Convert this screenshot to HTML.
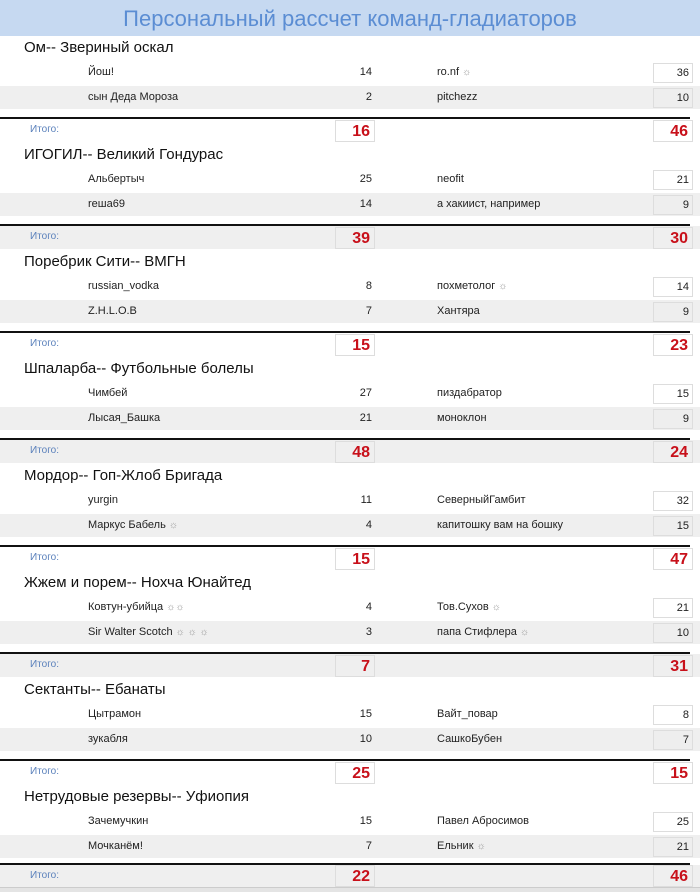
<!DOCTYPE html>
<html><head><meta charset="utf-8"><style>
*{margin:0;padding:0;box-sizing:border-box}
body{width:700px;height:892px;background:#fff;position:relative;overflow:hidden;font-family:"Liberation Sans","DejaVu Sans",sans-serif;color:#222}
.title{position:absolute;left:0;top:0;width:700px;height:36px;background:#c6d9f1;color:#5b8dd3;font-size:22px;text-align:center;line-height:38px}
.b{position:absolute;left:0;width:700px;height:96px}
.team{position:absolute;left:24px;top:0;font-size:15px;line-height:20px;color:#111}
.band{position:absolute;left:0;width:700px;height:23px;background:#efefef}
.r{position:absolute;font-size:11px;line-height:20px}
.n1{left:88px}.v1{left:300px;width:72px;text-align:right}.n2{left:437px}
.box{position:absolute;left:653px;width:40px;height:20px;border:1px solid #ddd;background:#fff;font-size:11px;line-height:18px;text-align:right;padding-right:3px}
.line{position:absolute;left:0;width:690px;height:2px;background:#111}
.it{position:absolute;left:30px;font-size:10px;color:#5a80bb;line-height:20px}
.tb{position:absolute;width:40px;height:22px;border:1px solid #ddd;color:#c8101a;font-weight:bold;font-size:16px;text-align:right;padding-right:4px;line-height:21px}
.s{color:#999;font-size:10px}
.b .r1{top:24px}
</style></head><body>
<div class="title">Персональный рассчет команд-гладиаторов</div>

<div class="b" style="top:38px">
<div class="team">Ом-- Звериный оскал</div>
<div class="r n1 r1">Йош!</div><div class="r v1 r1">14</div><div class="r n2 r1">ro.nf <span class="s">☼</span></div><div class="box" style="top:25px">36</div>
<div class="band" style="top:48px"></div>
<div class="r n1" style="top:49px">сын Деда Мороза</div><div class="r v1" style="top:49px">2</div><div class="r n2" style="top:49px">pitchezz</div><div class="box" style="top:50px;background:#eee">10</div>
<div class="line" style="top:79px"></div>
<div class="it" style="top:82px">Итого:</div>
<div class="tb" style="left:335px;top:82px">16</div><div class="tb" style="left:653px;top:82px">46</div>
</div>

<div class="b" style="top:145px">
<div class="team">ИГОГИЛ-- Великий Гондурас</div>
<div class="r n1 r1">Альбертыч</div><div class="r v1 r1">25</div><div class="r n2 r1">neofit</div><div class="box" style="top:25px">21</div>
<div class="band" style="top:48px"></div>
<div class="r n1" style="top:49px">reша69</div><div class="r v1" style="top:49px">14</div><div class="r n2" style="top:49px">а хакиист, например</div><div class="box" style="top:50px;background:#eee">9</div>
<div class="line" style="top:79px"></div>
<div class="band" style="top:81px"></div>
<div class="it" style="top:82px">Итого:</div>
<div class="tb" style="left:335px;top:82px">39</div><div class="tb" style="left:653px;top:82px">30</div>
</div>

<div class="b" style="top:252px">
<div class="team">Поребрик Сити-- ВМГН</div>
<div class="r n1 r1">russian_vodka</div><div class="r v1 r1">8</div><div class="r n2 r1">похметолог <span class="s">☼</span></div><div class="box" style="top:25px">14</div>
<div class="band" style="top:48px"></div>
<div class="r n1" style="top:49px">Z.H.L.O.B</div><div class="r v1" style="top:49px">7</div><div class="r n2" style="top:49px">Хантяра</div><div class="box" style="top:50px;background:#eee">9</div>
<div class="line" style="top:79px"></div>
<div class="it" style="top:82px">Итого:</div>
<div class="tb" style="left:335px;top:82px">15</div><div class="tb" style="left:653px;top:82px">23</div>
</div>

<div class="b" style="top:359px">
<div class="team">Шпаларба-- Футбольные болелы</div>
<div class="r n1 r1">Чимбей</div><div class="r v1 r1">27</div><div class="r n2 r1">пиздабратор</div><div class="box" style="top:25px">15</div>
<div class="band" style="top:48px"></div>
<div class="r n1" style="top:49px">Лысая_Башка</div><div class="r v1" style="top:49px">21</div><div class="r n2" style="top:49px">моноклон</div><div class="box" style="top:50px;background:#eee">9</div>
<div class="line" style="top:79px"></div>
<div class="band" style="top:81px"></div>
<div class="it" style="top:82px">Итого:</div>
<div class="tb" style="left:335px;top:82px">48</div><div class="tb" style="left:653px;top:82px">24</div>
</div>

<div class="b" style="top:466px">
<div class="team">Мордор-- Гоп-Жлоб Бригада</div>
<div class="r n1 r1">yurgin</div><div class="r v1 r1">11</div><div class="r n2 r1">СеверныйГамбит</div><div class="box" style="top:25px">32</div>
<div class="band" style="top:48px"></div>
<div class="r n1" style="top:49px">Маркус Бабель <span class="s">☼</span></div><div class="r v1" style="top:49px">4</div><div class="r n2" style="top:49px">капитошку вам на бошку</div><div class="box" style="top:50px;background:#eee">15</div>
<div class="line" style="top:79px"></div>
<div class="it" style="top:82px">Итого:</div>
<div class="tb" style="left:335px;top:82px">15</div><div class="tb" style="left:653px;top:82px">47</div>
</div>

<div class="b" style="top:573px">
<div class="team">Жжем и порем-- Нохча Юнайтед</div>
<div class="r n1 r1">Ковтун-убийца <span class="s">☼☼</span></div><div class="r v1 r1">4</div><div class="r n2 r1">Тов.Сухов <span class="s">☼</span></div><div class="box" style="top:25px">21</div>
<div class="band" style="top:48px"></div>
<div class="r n1" style="top:49px">Sir Walter Scotch <span class="s">☼ ☼ ☼</span></div><div class="r v1" style="top:49px">3</div><div class="r n2" style="top:49px">папа Стифлера <span class="s">☼</span></div><div class="box" style="top:50px;background:#eee">10</div>
<div class="line" style="top:79px"></div>
<div class="band" style="top:81px"></div>
<div class="it" style="top:82px">Итого:</div>
<div class="tb" style="left:335px;top:82px">7</div><div class="tb" style="left:653px;top:82px">31</div>
</div>

<div class="b" style="top:680px">
<div class="team">Сектанты-- Ебанаты</div>
<div class="r n1 r1">Цытрамон</div><div class="r v1 r1">15</div><div class="r n2 r1">Вайт_повар</div><div class="box" style="top:25px">8</div>
<div class="band" style="top:48px"></div>
<div class="r n1" style="top:49px">зукабля</div><div class="r v1" style="top:49px">10</div><div class="r n2" style="top:49px">СашкоБубен</div><div class="box" style="top:50px;background:#eee">7</div>
<div class="line" style="top:79px"></div>
<div class="it" style="top:82px">Итого:</div>
<div class="tb" style="left:335px;top:82px">25</div><div class="tb" style="left:653px;top:82px">15</div>
</div>

<div class="b" style="top:787px">
<div class="team">Нетрудовые резервы-- Уфиопия</div>
<div class="r n1 r1">Зачемучкин</div><div class="r v1 r1">15</div><div class="r n2 r1">Павел Абросимов</div><div class="box" style="top:25px">25</div>
<div class="band" style="top:48px"></div>
<div class="r n1" style="top:49px">Мочканём!</div><div class="r v1" style="top:49px">7</div><div class="r n2" style="top:49px">Ельник <span class="s">☼</span></div><div class="box" style="top:50px;background:#eee">21</div>
<div class="line" style="top:76px"></div>
<div class="band" style="top:78px"></div>
<div class="it" style="top:79px">Итого:</div>
<div class="tb" style="left:335px;top:78px">22</div><div class="tb" style="left:653px;top:78px">46</div>
</div>
<div style="position:absolute;left:0;top:887px;width:700px;height:5px;background:#e4e4e4;border-top:1px solid #ccc"></div>
</body></html>
